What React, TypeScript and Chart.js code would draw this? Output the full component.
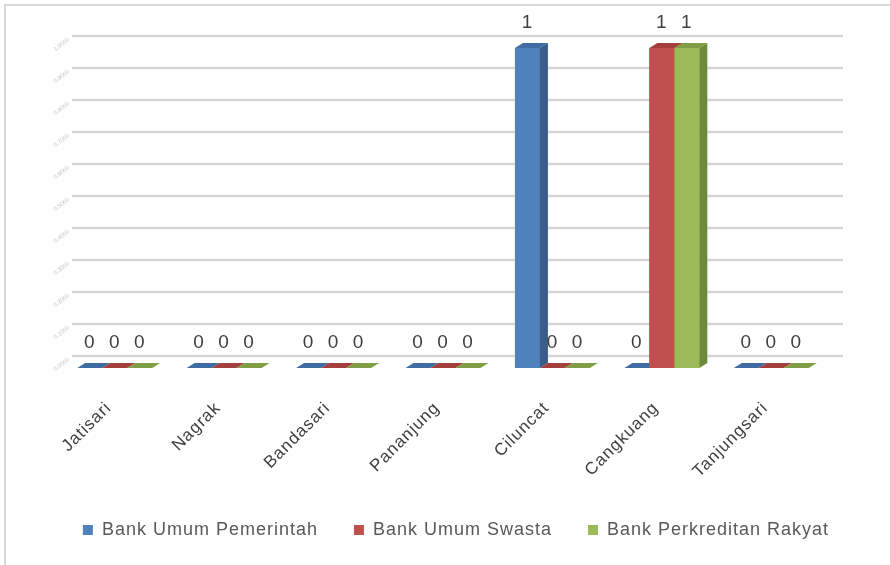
import { useEffect, useRef } from "react";
import { Chart, registerables } from "chart.js";

Chart.register(...registerables);

const categories = ["Jatisari", "Nagrak", "Bandasari", "Pananjung", "Ciluncat", "Cangkuang", "Tanjungsari"];
const seriesNames = ["Bank Umum Pemerintah", "Bank Umum Swasta", "Bank Perkreditan Rakyat"];
const bankUmumPemerintah = [0, 0, 0, 0, 1, 0, 0];
const bankUmumSwasta = [0, 0, 0, 0, 0, 1, 0];
const bankPerkreditanRakyat = [0, 0, 0, 0, 0, 1, 0];
const yTickValues = [0, 0.1, 0.2, 0.3, 0.4, 0.5, 0.6, 0.7, 0.8, 0.9, 1];
const yTickLabels = ["0,0000", "0,1000", "0,2000", "0,3000", "0,4000", "0,5000", "0,6000", "0,7000", "0,8000", "0,9000", "1,0000"];

const frontColors = ["#4F81BD", "#C0504D", "#9BBB59"];
const topColors = ["#3F6CA3", "#A3403D", "#809E45"];
const sideColors = ["#385D8A", "#8C3836", "#6F8A3C"];
const FONT = '"Liberation Sans", Arial, sans-serif';
const DX = 8;
const DY = 5;
const WALL_DX = 12;
const WALL_DY = 12;

const spacingPlugin = {
  id: "spacing",
  beforeUpdate(chart: any) {
    chart.ctx.letterSpacing = "1px";
  },
  beforeDraw(chart: any) {
    chart.ctx.letterSpacing = "1px";
  },
};

const framePlugin = {
  id: "frame",
  beforeDraw(chart: any) {
    const ctx = chart.ctx;
    ctx.save();
    ctx.fillStyle = "#ffffff";
    ctx.fillRect(0, 0, chart.width, chart.height);
    ctx.strokeStyle = "#d9d9d9";
    ctx.lineWidth = 2;
    ctx.beginPath();
    ctx.moveTo(5, chart.height);
    ctx.lineTo(5, 5);
    ctx.lineTo(chart.width, 5);
    ctx.stroke();
    ctx.restore();
  },
};

const wallPlugin = {
  id: "wall",
  beforeDatasetsDraw(chart: any) {
    const ctx = chart.ctx;
    const { left, right } = chart.chartArea;
    const ys = chart.scales.y;
    ctx.save();
    ctx.letterSpacing = "0px";
    yTickValues.forEach((v, i) => {
      const y = ys.getPixelForValue(v) - WALL_DY;
      ctx.strokeStyle = "#d6d6d6";
      ctx.lineWidth = 2.5;
      ctx.beginPath();
      ctx.moveTo(left + WALL_DX, y);
      ctx.lineTo(right + 17, y);
      ctx.stroke();
      ctx.save();
      ctx.translate(left + 9, y + 3);
      ctx.rotate(-Math.PI / 5);
      ctx.fillStyle = "#c4c4c4";
      ctx.font = "6px " + FONT;
      ctx.textAlign = "right";
      ctx.textBaseline = "middle";
      ctx.fillText(yTickLabels[i], 0, 0);
      ctx.restore();
    });
    ctx.restore();
  },
};

const barsPlugin = {
  id: "bars3d",
  afterDatasetsDraw(chart: any) {
    const ctx = chart.ctx;
    const metas = chart.data.datasets.map((_: any, i: number) => chart.getDatasetMeta(i));
    ctx.save();
    for (let j = 0; j < categories.length; j++) {
      metas.forEach((meta: any, i: number) => {
        const el = meta.data[j];
        const { x, y, base, width } = el.getProps(["x", "y", "base", "width"], true);
        const l = x - width / 2;
        const r = x + width / 2;
        ctx.fillStyle = frontColors[i];
        ctx.fillRect(l, y, width, base - y);
        ctx.fillStyle = topColors[i];
        ctx.beginPath();
        ctx.moveTo(l, y);
        ctx.lineTo(l + DX, y - DY);
        ctx.lineTo(r + DX, y - DY);
        ctx.lineTo(r, y);
        ctx.closePath();
        ctx.fill();
        if (base - y > 0.5) {
          ctx.fillStyle = sideColors[i];
          ctx.beginPath();
          ctx.moveTo(r, y);
          ctx.lineTo(r + DX, y - DY);
          ctx.lineTo(r + DX, base - DY);
          ctx.lineTo(r, base);
          ctx.closePath();
          ctx.fill();
        }
      });
    }
    ctx.fillStyle = "#404040";
    ctx.font = "19px " + FONT;
    ctx.textAlign = "center";
    ctx.textBaseline = "middle";
    metas.forEach((meta: any, i: number) => {
      meta.data.forEach((el: any, j: number) => {
        const { x, y } = el.getProps(["x", "y"], true);
        const v = chart.data.datasets[i].data[j];
        ctx.fillText(String(v), x, y - 25);
      });
    });
    ctx.restore();
  },
};

export default function App() {
  const ref = useRef<HTMLCanvasElement | null>(null);
  useEffect(() => {
    document.body.style.margin = "0";
    if (!ref.current) return;
    const chart = new Chart(ref.current, {
      type: "bar",
      data: {
        labels: categories,
        datasets: [bankUmumPemerintah, bankUmumSwasta, bankPerkreditanRakyat].map((d, i) => ({
          label: seriesNames[i],
          data: d,
          backgroundColor: frontColors[i],
          borderWidth: 0,
          categoryPercentage: 0.685,
          barPercentage: 1,
          yAxisID: "y",
        })),
      },
      options: {
        animation: false,
        responsive: false,
        maintainAspectRatio: false,
        layout: { padding: { left: 22, right: 0, top: 48, bottom: 16 } },
        scales: {
          x: {
            grid: { display: false },
            border: { display: false },
            ticks: {
              minRotation: 45,
              maxRotation: 45,
              color: "#404040",
              font: { family: FONT, size: 17 },
              padding: 22,
              labelOffset: -6,
            },
            afterFit(scale: any) {
              scale.height = 117;
            },
          },
          y: {
            position: "left",
            min: 0,
            max: 1,
            grid: { display: false },
            border: { display: false },
            ticks: { display: false },
            afterFit(scale: any) {
              scale.width = 38;
            },
          },
          yRight: {
            position: "right",
            min: 0,
            max: 1,
            grid: { display: false },
            border: { display: false },
            ticks: { display: false },
            afterFit(scale: any) {
              scale.width = 64;
            },
          },
        },
        plugins: {
          legend: {
            position: "bottom",
            labels: {
              boxWidth: 10,
              boxHeight: 10,
              color: "#595959",
              font: { family: FONT, size: 18 },
              padding: 36,
            },
          },
          tooltip: { enabled: false },
        },
      },
      plugins: [spacingPlugin, framePlugin, wallPlugin, barsPlugin],
    });
    return () => chart.destroy();
  }, []);
  return <canvas ref={ref} width={890} height={565} style={{ display: "block" }} />;
}
